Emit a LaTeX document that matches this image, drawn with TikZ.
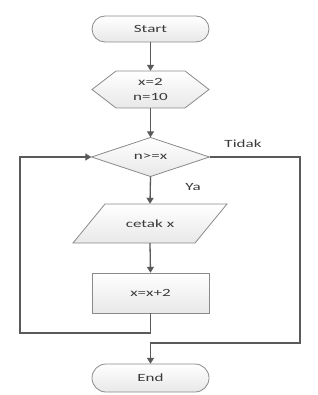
\documentclass[tikz,border=0pt]{standalone}
\usepackage{fontspec}
\setmainfont{Carlito}[FakeStretch=1.55]
\usetikzlibrary{arrows.meta,calc}
\definecolor{linec}{HTML}{5A5A5A}
\definecolor{edgec}{HTML}{8A8A8A}
\definecolor{txtc}{HTML}{3A3A3A}
\tikzset{
  box/.style={draw=none,inner sep=0pt,font=\fontsize{11}{15}\selectfont,text=txtc,align=center},
  outline/.style={draw=edgec,line width=0.8pt,top color=white,bottom color=black!9},
  conn/.style={draw=linec,line width=1.3pt},
  arr/.style={conn,-{Triangle[width=7pt,length=6pt]}},
  lbl/.style={font=\fontsize{11}{13}\selectfont,text=txtc}
}
\begin{document}
\begin{tikzpicture}[x=1pt,y=-1pt]
\useasboundingbox (0,0) rectangle (317,395);
% shapes
\draw[outline,rounded corners=13pt] (92,16) rectangle (209,42);
\draw[outline] (92,89.5) -- (116,71) -- (185,71) -- (209,89.5) -- (185,108) -- (116,108) -- cycle;
\draw[outline] (91.5,157) -- (150.5,137.5) -- (209.5,157) -- (150.5,176.5) -- cycle;
\draw[outline] (105,204) -- (227,204) -- (195,243) -- (73,243) -- cycle;
\draw[outline] (92,273) rectangle (209,313);
\draw[outline,rounded corners=14pt] (92,364) rectangle (209,392);
% text nodes
\node[box,minimum width=117pt,minimum height=26pt] (start) at (150.5,29) {Start};
\node[box,minimum width=117pt,minimum height=37pt] (init) at (150.5,89.5) {x=2\\n=10};
\node[box,minimum width=118pt,minimum height=39pt] (cond) at (150.5,157) {n>=x};
\node[box,minimum width=90pt,minimum height=39pt] (out) at (150,223.5) {cetak x};
\node[box,minimum width=117pt,minimum height=40pt] (inc) at (150.5,293) {x=x+2};
\node[box,minimum width=117pt,minimum height=28pt] (end) at (150.5,378) {End};
\node[lbl] (tidak) at (243,144) {Tidak};
\node[lbl] (ya) at (193,187) {Ya};
\coordinate (loopA) at (150.5,333);
\coordinate (loopB) at (20,333);
\coordinate (loopC) at (20,157);
\coordinate (noA) at (300,157);
\coordinate (noB) at (300,343);
\coordinate (noC) at (150.5,343);
% connectors
\draw[arr] (start.south) -- (init.north);
\draw[arr] (init.south) -- (cond.north);
\draw[arr] (cond.south) -- (out.north);
\draw[arr] (out.south) -- (inc.north);
\draw[arr] (inc.south) -- (loopA) -- (loopB) -- (loopC) -- (cond.west);
\draw[arr] (cond.east) -- (noA) -- (noB) -- (noC) -- (end.north);
\end{tikzpicture}
\end{document}
